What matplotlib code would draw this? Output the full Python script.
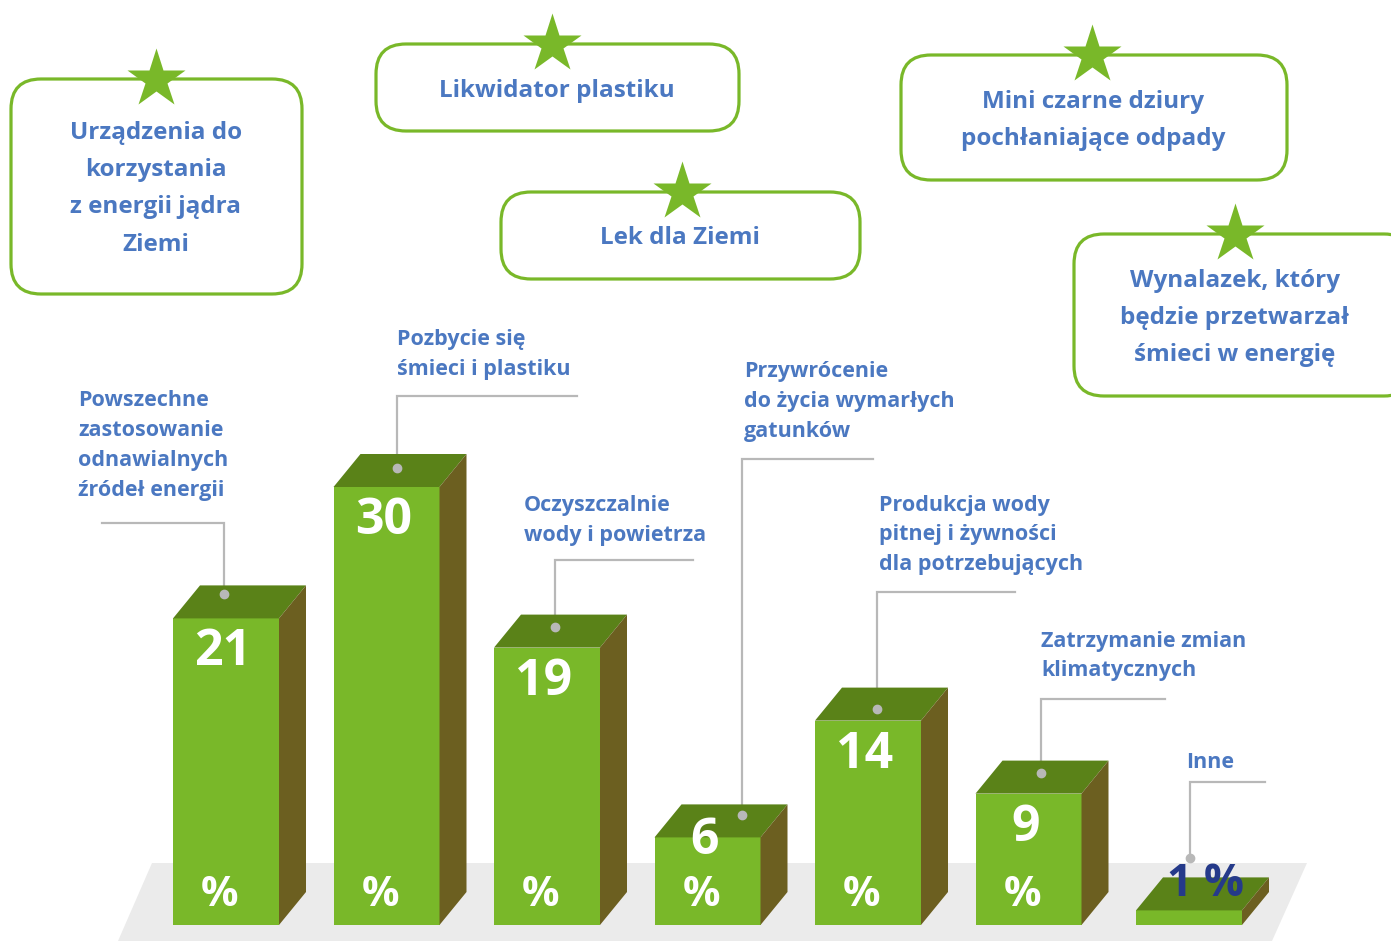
import matplotlib
matplotlib.use("Agg")
import matplotlib.pyplot as plt
from matplotlib.patches import Polygon, FancyBboxPatch

# ---- data ----
values = [21, 30, 19, 6, 14, 9, 1]
bar_labels = [
    ["Powszechne", "zastosowanie", "odnawialnych", "źródeł energii"],
    ["Pozbycie się", "śmieci i plastiku"],
    ["Oczyszczalnie", "wody i powietrza"],
    ["Przywrócenie", "do życia wymarłych", "gatunków"],
    ["Produkcja wody", "pitnej i żywności", "dla potrzebujących"],
    ["Zatrzymanie zmian", "klimatycznych"],
    ["Inne"],
]
ideas = [
    ["Urządzenia do", "korzystania", "z energii jądra", "Ziemi"],
    ["Likwidator plastiku"],
    ["Lek dla Ziemi"],
    ["Mini czarne dziury", "pochłaniające odpady"],
    ["Wynalazek, który", "będzie przetwarzał", "śmieci w energię"],
]

# ---- style ----
FRONT = "#79b829"
TOP = "#5a8218"
SIDE = "#6c5f20"
BLUE = "#4b78c1"
NAVY = "#253a8a"
GREY = "#b8b8b8"
FONT = "Open Sans"

W, H = 1391, 941
fig = plt.figure(figsize=(W / 100, H / 100), dpi=100)

# pixel-space axes for decoration
ax = fig.add_axes([0, 0, 1, 1])
ax.set_xlim(0, W)
ax.set_ylim(H, 0)
ax.axis("off")

# bar axes in category / value units, overlaid on the same area
PX_X0, PX_DX = 226.0, 160.5   # px of category 0, px per category
BASE, PX_V = 925.0, 14.6      # px of value 0, px per unit
bx = fig.add_axes([0, 0, 1, 1], zorder=2)
bx.patch.set_alpha(0)
bx.set_xlim(-PX_X0 / PX_DX, (W - PX_X0) / PX_DX)
bx.set_ylim((BASE - H) / PX_V, BASE / PX_V)
bx.axis("off")

# floor
ax.add_patch(Polygon([(152, 863), (1307, 863), (1272, 941), (118, 941)],
                     closed=True, facecolor="#ebebeb", edgecolor="none", zorder=0))

bw = 106 / PX_DX
ddx = 27 / PX_DX
ddy = 33 / PX_V
xs = list(range(len(values)))
bx.bar(xs, values, width=bw, color=FRONT, zorder=3)
pct_y = (BASE - 896) / PX_V
for i, v in zip(xs, values):
    l, r = i - bw / 2, i + bw / 2
    bx.add_patch(Polygon([(l, v), (r, v), (r + ddx, v + ddy), (l + ddx, v + ddy)],
                         closed=True, facecolor=TOP, edgecolor="none", zorder=3))
    bx.add_patch(Polygon([(r, 0), (r + ddx, ddy), (r + ddx, v + ddy), (r, v)],
                         closed=True, facecolor=SIDE, edgecolor="none", zorder=3))
    if v >= 5:
        num_y = max(v - 34 / PX_V, pct_y + 55 / PX_V)
        bx.text(i - 0.02, num_y, str(v), color="white", fontsize=36, fontweight="bold",
                family=FONT, ha="center", va="center", zorder=5)
        bx.text(i - 0.04, pct_y, "%", color="white", fontsize=30, fontweight="bold",
                family=FONT, ha="center", va="center", zorder=5)
    else:
        bx.text(i + 0.1, v + 1.8, f"{v} %", color=NAVY, fontsize=32,
                fontweight="bold", family=FONT, ha="center", va="center", zorder=5)

# leader lines: (vertical x px, horizontal y px, horizontal end x px, dot lift in units)
leaders = [(224, 523, 102, 1.7), (397, 396, 577, 1.3), (555, 560, 693, 1.4),
           (742, 459, 873, 1.5), (877, 592, 1015, 0.8), (1041, 699, 1165, 1.4),
           (1190, 782, 1265, 3.6)]
label_pos = [(78, 401), (397, 340), (524, 506), (744, 372), (879, 505), (1041, 641), (1186, 762)]
to_px = ax.transData.inverted()
for (xv, yh, xe, lift), v, lines, (tx, ty) in zip(leaders, values, bar_labels, label_pos):
    _, ydot = to_px.transform(bx.transData.transform((0, v + lift)))
    ax.plot([xe, xv, xv], [yh, yh, ydot], color=GREY, lw=1.6, zorder=1,
            solid_joinstyle="miter")
    fig.add_artist(plt.Line2D([xv], [ydot], marker="o", markersize=6, color=GREY,
                              transform=ax.transData, zorder=10))
    for k, line in enumerate(lines):
        ax.text(tx, ty + k * 29.8, line, color=BLUE, fontsize=15.5, fontweight="bold",
                family=FONT, ha="left", va="center")

# idea boxes: (x, y, w, h, text centre x, first line y)
boxes = [(11, 79, 291, 215, 156, 133), (376, 44, 363, 87, 557, 91),
         (501, 192, 359, 87, 680, 238), (901, 55, 386, 125, 1093, 102),
         (1074, 234, 340, 162, 1235, 281)]
stars_x = [156, 552, 682, 1092, 1235]
for (x, y, w, h, cx, ly), sx, lines in zip(boxes, stars_x, ideas):
    ax.add_patch(FancyBboxPatch((x, y), w, h, boxstyle="round,pad=0,rounding_size=30",
                                facecolor="white", edgecolor=FRONT, lw=2.3, zorder=2))
    ax.plot([sx], [y], marker="*", markersize=44, color=FRONT, mec="none", zorder=4)
    for k, line in enumerate(lines):
        ax.text(cx, ly + k * 37.2, line, color=BLUE, fontsize=17.5, fontweight="bold",
                family=FONT, ha="center", va="center", zorder=5)

fig.savefig("out.png", dpi=100)
